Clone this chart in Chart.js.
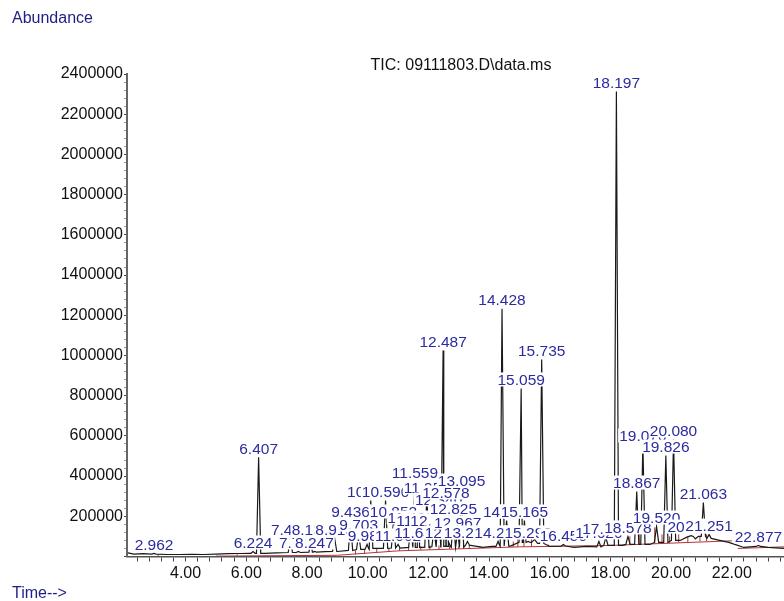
<!DOCTYPE html>
<html>
<head>
<meta charset="utf-8">
<script src="https://cdn.jsdelivr.net/npm/chart.js@4/dist/chart.umd.min.js"></script>
<style>
  html, body { margin: 0; padding: 0; background: #ffffff; }
  #wrap { position: relative; width: 784px; height: 601px; }
</style>
</head>
<body>
<div id="wrap"><canvas id="tic" width="784" height="601"></canvas></div>
<script>
// Labelled peaks: retention time (min) and apex abundance
const peakTimes = [2.962, 6.224, 6.407, 7.452, 7.716, 8.136, 8.247, 8.913, 9.436, 9.703,
  9.981, 10.102, 10.590, 10.852, 11.002, 11.420, 11.559, 11.640, 11.702, 11.951,
  12.186, 12.340, 12.487, 12.578, 12.660, 12.825, 12.967, 13.095, 13.290, 14.298,
  14.428, 14.580, 15.059, 15.165, 15.290, 15.735, 16.450, 17.620, 17.850, 18.197,
  18.578, 18.867, 19.070, 19.520, 19.826, 20.080, 20.660, 21.063, 21.251, 22.877];
const peakHeights = [15000, 25000, 493000, 90000, 25000, 90000, 25000, 90000, 179000, 114000,
  60000, 279000, 279000, 179000, 60000, 149000, 373000, 75000, 134000, 299000,
  134000, 239000, 1025000, 274000, 75000, 194000, 124000, 333000, 75000, 75000,
  1232000, 179000, 836000, 179000, 75000, 980000, 60000, 75000, 95000, 2313000,
  100000, 323000, 557000, 149000, 502000, 582000, 104000, 269000, 109000, 55000];

// Detector baseline between peaks: time (min) and abundance
const baseTimes = [2.10, 2.30, 2.60, 3.00, 3.40, 3.80, 4.20, 4.60, 5.00, 5.40, 5.80, 6.10,
  6.60, 7.00, 7.40, 7.80, 8.20, 8.60, 9.00, 9.40, 9.80, 10.20, 10.60, 11.00, 11.40,
  11.80, 12.20, 12.60, 13.00, 13.40, 13.80, 14.10, 14.70, 15.40, 15.50, 15.60, 16.00,
  16.40, 16.80, 17.20, 17.60, 17.90, 18.40, 18.70, 19.30, 19.60, 20.30, 20.50, 20.60,
  20.70, 20.80, 20.90, 21.30, 21.60, 21.90, 22.10, 22.40, 22.80, 23.20, 23.72];
const baseValues = [18000, 12000, 14000, 12000, 10000, 10000, 11000, 10000, 12000, 14000, 15000, 16000,
  16000, 18000, 20000, 20000, 22000, 24000, 25000, 30000, 35000, 40000, 40000, 42000, 45000,
  45000, 48000, 50000, 45000, 55000, 45000, 50000, 52000, 70000, 85000, 65000, 50000,
  52000, 45000, 50000, 48000, 55000, 55000, 60000, 60000, 70000, 80000, 95000, 85000,
  100000, 88000, 100000, 90000, 80000, 70000, 60000, 45000, 50000, 45000, 40000];

// Integration baseline (two drawn segments) and integration event marks
const intBaseTimes = [5.0, 9.0, 11.0, 15.0, 18.0, 22.0, null, 22.2, 23.72];
const intBaseValues = [2000, 6000, 28000, 48000, 55000, 78000, null, 40000, 48000];
const markTimes = [3.10, 5.70, 9.60, 9.90, 10.30, 10.70, 11.05, 11.35, 11.75, 12.05, 12.35,
  12.70, 13.00, 13.35, 13.70, 14.80, 14.95, 15.15, 15.40, 15.95, 18.64, 18.95, 19.46,
  19.70, 19.95, 20.25, 20.55, 20.95, 21.17];
const markLows = [3000, 3000, 10000, 12000, 18000, 22000, 28000, 30000, 32000, 34000, 36000,
  38000, 39000, 41000, 43000, 47000, 47000, 48000, 48000, 49000, 58000, 60000, 64000,
  66000, 68000, 70000, 72000, 75000, 76000];
const markHighs = [9000, 10000, 30000, 35000, 40000, 40000, 45000, 50000, 50000, 55000, 55000,
  55000, 50000, 55000, 50000, 75000, 90000, 80000, 90000, 60000, 100000, 130000, 145000,
  110000, 100000, 110000, 100000, 100000, 110000];

// Axis tick labels
const xTickLabels = ['4.00', '6.00', '8.00', '10.00', '12.00', '14.00', '16.00', '18.00', '20.00', '22.00'];
const yTickLabels = ['200000', '400000', '600000', '800000', '1000000', '1200000', '1400000',
  '1600000', '1800000', '2000000', '2200000', '2400000'];

const X_MIN = 2.07, X_MAX = 23.72, Y_MAX = 2400000;
const HALF_WIDTH = 0.07;      // half base width of a drawn peak, minutes
const LABEL_BLUE = '#2b2ba0';
const FONT = "'Liberation Sans', Arial, sans-serif";

// Trace = baseline samples outside peaks + a triangle per peak
function nearestBase(t) {
  let best = 0;
  for (let i = 1; i < baseTimes.length; i++) {
    if (Math.abs(baseTimes[i] - t) < Math.abs(baseTimes[best] - t)) best = i;
  }
  return baseValues[best];
}
const trace = [];
baseTimes.forEach((t, i) => {
  const inPeak = peakTimes.some(rt => Math.abs(rt - t) < HALF_WIDTH);
  if (!inPeak) trace.push({ x: t, y: baseValues[i] });
});
peakTimes.forEach((rt, i) => {
  trace.push({ x: rt - HALF_WIDTH, y: nearestBase(rt) });
  trace.push({ x: rt, y: peakHeights[i] });
  trace.push({ x: rt + HALF_WIDTH, y: nearestBase(rt) });
});
trace.sort((a, b) => a.x - b.x);

const intBase = intBaseTimes.map((t, i) => (t === null ? { x: NaN, y: null } : { x: t, y: intBaseValues[i] }));
const marks = [];
markTimes.forEach((t, i) => {
  marks.push({ x: t, y: markLows[i] }, { x: t, y: markHighs[i] }, { x: t, y: null });
});

// Tick positions: minor every 0.4 min, every 40000 counts
const xTickValues = [];
for (let k = 6; k * 0.4 <= X_MAX; k++) xTickValues.push(+(k * 0.4).toFixed(2));
const yTickValues = [];
for (let k = 0; k <= 60; k++) yTickValues.push(k * 40000);

// Retention-time labels on white boxes, drawn in elution order
const peakLabels = {
  id: 'peakLabels',
  afterDatasetsDraw(chart) {
    const { ctx, scales: { x, y } } = chart;
    ctx.save();
    ctx.font = `15.5px ${FONT}`;
    ctx.textAlign = 'center';
    ctx.textBaseline = 'middle';
    peakTimes.forEach((rt, i) => {
      const px = x.getPixelForValue(rt);
      const py = y.getPixelForValue(peakHeights[i]) - 9;
      const txt = rt.toFixed(3);
      const w = ctx.measureText(txt).width;
      ctx.fillStyle = '#ffffff';
      ctx.fillRect(px - w / 2 - 1, py - 7, w + 2, 14);
      ctx.fillStyle = LABEL_BLUE;
      ctx.fillText(txt, px, py + 1);
    });
    ctx.restore();
  }
};

const captions = {
  id: 'captions',
  afterDraw(chart) {
    const ctx = chart.ctx;
    ctx.save();
    ctx.font = `16px ${FONT}`;
    ctx.textBaseline = 'middle';
    ctx.textAlign = 'left';
    ctx.fillStyle = '#1e1e86';
    ctx.fillText('Abundance', 12, 19);
    ctx.fillText('Time-->', 12, 594);
    ctx.textAlign = 'center';
    ctx.fillStyle = '#111111';
    ctx.fillText('TIC: 09111803.D\\data.ms', 461, 66);
    ctx.restore();
  }
};

Chart.defaults.font.family = FONT;

new Chart(document.getElementById('tic'), {
  type: 'line',
  data: {
    datasets: [
      { label: 'integration baseline', data: intBase, borderColor: '#b03535', borderWidth: 1,
        pointRadius: 0, spanGaps: false, order: 3 },
      { label: 'integration marks', data: marks, borderColor: '#b03535', borderWidth: 1,
        pointRadius: 0, spanGaps: false, order: 2 },
      { label: 'TIC', data: trace, borderColor: '#1a1a1a', borderWidth: 1.2,
        pointRadius: 0, tension: 0, order: 1 }
    ]
  },
  options: {
    responsive: false,
    animation: false,
    parsing: true,
    layout: { padding: { top: 74, right: 0, bottom: 0, left: 0 } },
    plugins: { legend: { display: false }, tooltip: { enabled: false }, title: { display: false } },
    scales: {
      x: {
        type: 'linear', min: X_MIN, max: X_MAX,
        afterBuildTicks: s => { s.ticks = xTickValues.map(v => ({ value: v })); },
        afterFit: s => { s.height = 44.5; },
        ticks: {
          autoSkip: false, maxRotation: 0, padding: 2, color: '#111111',
          font: { size: 16 },
          callback: v => (xTickLabels.includes(v.toFixed(2)) ? v.toFixed(2) : '')
        },
        grid: { drawOnChartArea: false, drawTicks: true, tickLength: 5, color: '#444444' },
        border: { color: '#555555', width: 1.5 }
      },
      y: {
        type: 'linear', min: 0, max: Y_MAX,
        afterBuildTicks: s => { s.ticks = yTickValues.map(v => ({ value: v })); },
        afterFit: s => { s.width = 127; },
        ticks: {
          autoSkip: false, padding: 1, color: '#111111', font: { size: 16 },
          callback: v => (yTickLabels.includes(String(v)) ? String(v) : '')
        },
        grid: {
          drawOnChartArea: false, drawTicks: true, tickLength: 3,
          color: c => (c.tick && c.tick.value % 200000 === 0 ? '#444444' : '#9a9a9a')
        },
        border: { color: '#666666', width: 2 }
      }
    }
  },
  plugins: [peakLabels, captions]
});
</script>
</body>
</html>
